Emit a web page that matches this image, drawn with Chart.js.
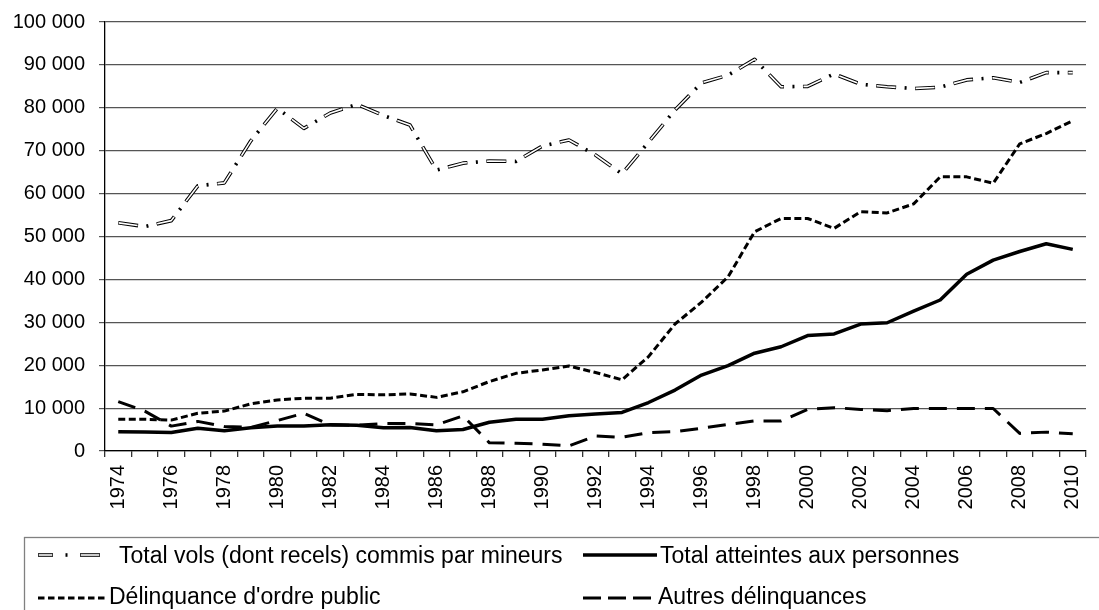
<!DOCTYPE html>
<html>
<head>
<meta charset="utf-8">
<script src="https://cdn.jsdelivr.net/npm/chart.js@4.4.0/dist/chart.umd.min.js"></script>
<style>
  html, body { margin: 0; padding: 0; background: #fff; }
  #wrap { width: 1099px; height: 610px; position: relative; }
</style>
</head>
<body>
<div id="wrap"><canvas id="graph"></canvas></div>
<script>
// --- données ---
const years = ['1974','1975','1976','1977','1978','1979','1980','1981','1982','1983',
  '1984','1985','1986','1987','1988','1989','1990','1991','1992','1993',
  '1994','1995','1996','1997','1998','1999','2000','2001','2002','2003',
  '2004','2005','2006','2007','2008','2009','2010'];

const vols = [53200, 52300, 53700, 61800, 62500, 72300, 79900, 75200, 78800, 80800,
  78200, 76000, 65500, 67100, 67600, 67500, 71100, 72500, 69000, 64600,
  72000, 79500, 85800, 87600, 91300, 84900, 85000, 87900, 85500, 84900,
  84500, 84800, 86500, 87000, 85900, 88200, 88200];

const personnes = [4500, 4400, 4300, 5300, 4700, 5400, 5800, 5800, 6100, 6000,
  5400, 5500, 4700, 5000, 6700, 7400, 7400, 8200, 8600, 9000,
  11300, 14200, 17700, 19900, 22800, 24300, 26900, 27300, 29600, 29900,
  32600, 35200, 41200, 44500, 46500, 48300, 47000];

const ordrePublic = [7400, 7400, 7200, 8800, 9300, 11000, 11900, 12300, 12300, 13200,
  13100, 13300, 12500, 13800, 16200, 18100, 18900, 19800, 18300, 16600,
  22000, 29600, 34700, 40600, 51100, 54200, 54200, 51900, 55800, 55500,
  57600, 63900, 63900, 62400, 71600, 74000, 77000];

const autres = [11500, 9300, 5800, 6900, 5700, 5500, 7100, 8800, 6100, 6000,
  6400, 6400, 6100, 8200, 1900, 1800, 1600, 1200, 3500, 3200,
  4300, 4500, 5300, 6200, 7000, 7000, 9700, 10100, 9700, 9400,
  9900, 9900, 9900, 9900, 4100, 4400, 4000];

const yTicks = [0, 10000, 20000, 30000, 40000, 50000, 60000, 70000, 80000, 90000, 100000];

const seriesNames = ['Total vols (dont recels) commis par mineurs', 'Total atteintes aux personnes',
  "Délinquance d'ordre public", 'Autres délinquances'];

const FONT = "'Liberation Sans', Arial, sans-serif";

// 100000 -> "100 000"
function fmt(v) {
  return String(v).replace(/\B(?=(\d{3})+(?!\d))/g, ' ');
}

// legende dessinee a la main (2 colonnes, cadre)
const legendBox = {
  id: 'legendBox',
  afterDraw(chart) {
    const ctx = chart.ctx;
    ctx.save();
    ctx.strokeStyle = '#808080';
    ctx.lineWidth = 1.3;
    ctx.strokeRect(24.5, 537.5, 1100, 100);

    ctx.strokeStyle = '#000';
    ctx.lineCap = 'butt';

    // vols : trait double + point
    const yA = 555;
    [[38, 53], [80, 100]].forEach(s => {
      ctx.lineWidth = 3.6; ctx.strokeStyle = '#000'; ctx.setLineDash([]);
      ctx.beginPath(); ctx.moveTo(s[0], yA); ctx.lineTo(s[1], yA); ctx.stroke();
      ctx.lineWidth = 1.6; ctx.strokeStyle = '#fff';
      ctx.beginPath(); ctx.moveTo(s[0] + 0.7, yA); ctx.lineTo(s[1] - 0.7, yA); ctx.stroke();
    });
    ctx.strokeStyle = '#000'; ctx.lineWidth = 3.6;
    ctx.beginPath(); ctx.moveTo(65.5, yA); ctx.lineTo(67.5, yA); ctx.stroke();

    // personnes
    ctx.lineWidth = 3.5; ctx.setLineDash([]);
    ctx.beginPath(); ctx.moveTo(583, yA); ctx.lineTo(657, yA); ctx.stroke();

    // ordre public
    const yB = 598;
    ctx.lineWidth = 3; ctx.setLineDash([6.5, 3.5]);
    ctx.beginPath(); ctx.moveTo(38, yB); ctx.lineTo(107, yB); ctx.stroke();

    // autres
    ctx.setLineDash([18, 7]);
    ctx.beginPath(); ctx.moveTo(583, yB); ctx.lineTo(653, yB); ctx.stroke();
    ctx.setLineDash([]);

    ctx.fillStyle = '#000';
    ctx.font = '23px ' + FONT;
    ctx.textBaseline = 'alphabetic';
    ctx.textAlign = 'left';
    ctx.fillText(seriesNames[0], 119, 563);
    ctx.fillText(seriesNames[1], 660, 563);
    ctx.fillText(seriesNames[2], 109, 604);
    ctx.fillText(seriesNames[3], 658, 604);
    ctx.restore();
  }
};

const base = { pointRadius: 0, tension: 0, fill: false, borderCapStyle: 'butt', borderJoinStyle: 'round' };

new Chart(document.getElementById('graph'), {
  type: 'line',
  data: {
    labels: years,
    datasets: [
      Object.assign({}, base, { label: 'voile', data: vols, borderColor: '#fff', borderWidth: 1.6,
        borderDash: [19, 20], borderDashOffset: -0.5, order: 0 }),
      Object.assign({}, base, { label: seriesNames[0], data: vols, borderColor: '#000', borderWidth: 3.6,
        borderDash: [20, 8.5, 2, 8.5], order: 1 }),
      Object.assign({}, base, { label: seriesNames[1], data: personnes, borderColor: '#000', borderWidth: 3.5, order: 2 }),
      Object.assign({}, base, { label: seriesNames[2], data: ordrePublic, borderColor: '#000', borderWidth: 3,
        borderDash: [7, 3.5], order: 3 }),
      Object.assign({}, base, { label: seriesNames[3], data: autres, borderColor: '#000', borderWidth: 3,
        borderDash: [18, 10], order: 4 })
    ]
  },
  options: {
    responsive: true,
    maintainAspectRatio: false,
    animation: false,
    layout: { padding: { top: 22, right: 13, bottom: 0, left: 0 } },
    plugins: { legend: { display: false }, tooltip: { enabled: false } },
    scales: {
      x: {
        offset: true,
        afterFit: s => { s.height = 159; s.paddingLeft = 0; s.paddingRight = 0; },
        border: { display: true, color: '#000', width: 1.3 },
        grid: { offset: true, drawOnChartArea: false, drawTicks: true, tickLength: 6, color: '#333', lineWidth: 1.3 },
        ticks: {
          autoSkip: false, maxRotation: 90, minRotation: 90, padding: 8, color: '#000',
          font: { family: FONT, size: 20 },
          callback: (v, i) => (i % 2 === 0 ? years[i] : '')
        }
      },
      y: {
        min: 0, max: 100000,
        afterBuildTicks: s => { s.ticks = yTicks.map(v => ({ value: v })); },
        afterFit: s => { s.width = 105; s.paddingTop = 0; s.paddingBottom = 0; },
        border: { display: true, color: '#000', width: 1.3 },
        grid: { color: '#555', lineWidth: 1.2, drawTicks: true, tickLength: 6 },
        ticks: { color: '#000', padding: 14, font: { family: FONT, size: 20 }, callback: v => fmt(v) }
      }
    }
  },
  plugins: [legendBox]
});
</script>
</body>
</html>
